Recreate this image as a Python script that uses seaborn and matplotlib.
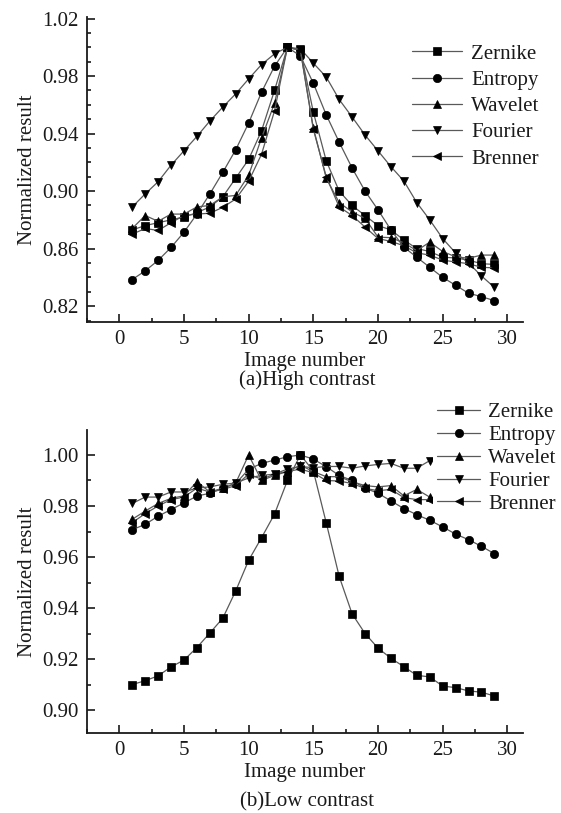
"""Normalized focus measures vs image number (high / low contrast)."""

import matplotlib

matplotlib.use("Agg")
import matplotlib.pyplot as plt  # noqa: E402
import pandas as pd  # noqa: E402
import seaborn as sns  # noqa: E402
from matplotlib.ticker import MultipleLocator, FormatStrFormatter  # noqa: E402

sns.set_style("ticks")
plt.rcParams["font.family"] = ["Liberation Serif", "DejaVu Serif"]

methods = ["Zernike", "Entropy", "Wavelet", "Fourier", "Brenner"]
markers = {"Zernike": "s", "Entropy": "o", "Wavelet": "^", "Fourier": "v", "Brenner": "<"}

# (a) high contrast, images 1..29
img_hi = list(range(1, 30))
zernike_hi = [0.873, 0.876, 0.878, 0.880, 0.882, 0.885, 0.889, 0.896, 0.909, 0.922,
              0.942, 0.970, 1.000, 0.998, 0.955, 0.921, 0.900, 0.890, 0.883, 0.876,
              0.873, 0.866, 0.860, 0.858, 0.854, 0.8535, 0.852, 0.8495, 0.849]
entropy_hi = [0.8385, 0.8445, 0.8518, 0.8608, 0.8714, 0.884, 0.898, 0.913, 0.9287, 0.9473,
              0.9688, 0.9868, 1.000, 0.994, 0.975, 0.953, 0.934, 0.916, 0.900, 0.887,
              0.873, 0.861, 0.854, 0.847, 0.840, 0.8345, 0.829, 0.8266, 0.8238]
wavelet_hi = [0.874, 0.883, 0.879, 0.884, 0.884, 0.889, 0.890, 0.896, 0.897, 0.911,
              0.937, 0.961, 1.000, 0.998, 0.944, 0.909, 0.892, 0.8855, 0.881, 0.868,
              0.8676, 0.864, 0.8586, 0.8645, 0.858, 0.8543, 0.8533, 0.8555, 0.8555]
fourier_hi = [0.889, 0.898, 0.9065, 0.918, 0.928, 0.938, 0.9487, 0.9584, 0.9676, 0.978,
              0.988, 0.9954, 1.000, 0.999, 0.989, 0.9793, 0.9637, 0.9515, 0.939, 0.928,
              0.917, 0.907, 0.892, 0.880, 0.867, 0.857, 0.850, 0.841, 0.833]
brenner_hi = [0.870, 0.874, 0.8726, 0.878, 0.883, 0.884, 0.8846, 0.8887, 0.8945, 0.9068,
              0.9257, 0.9557, 1.000, 0.998, 0.943, 0.910, 0.889, 0.883, 0.875, 0.867,
              0.865, 0.862, 0.857, 0.8555, 0.852, 0.8507, 0.8495, 0.847, 0.8466]

# (b) low contrast; Wavelet/Fourier/Brenner visible up to image 24
img_lo = list(range(1, 30))
img_lo_short = list(range(1, 25))
zernike_lo = [0.910, 0.9115, 0.9134, 0.9169, 0.9196, 0.9245, 0.9302, 0.936, 0.9467, 0.9587,
              0.9676, 0.9768, 0.990, 1.000, 0.9938, 0.9734, 0.9524, 0.9377, 0.930, 0.9243,
              0.9203, 0.917, 0.9136, 0.913, 0.9094, 0.9088, 0.9075, 0.907, 0.9055]
entropy_lo = [0.9707, 0.9728, 0.976, 0.9786, 0.9812, 0.9839, 0.985, 0.9869, 0.9888, 0.9944,
              0.9967, 0.998, 0.9993, 1.000, 0.9984, 0.9954, 0.992, 0.990, 0.987, 0.985,
              0.982, 0.979, 0.9766, 0.9744, 0.9718, 0.969, 0.9668, 0.9642, 0.9613]
wavelet_lo = [0.9748, 0.978, 0.981, 0.983, 0.984, 0.9895, 0.9855, 0.987, 0.989, 1.000,
              0.990, 0.992, 0.9935, 0.996, 0.9935, 0.9915, 0.9915, 0.9895, 0.988, 0.9875,
              0.988, 0.984, 0.9865, 0.9835]
fourier_lo = [0.981, 0.9835, 0.9835, 0.9855, 0.9855, 0.987, 0.9875, 0.9885, 0.989, 0.991,
              0.992, 0.9925, 0.9945, 0.9955, 0.995, 0.9955, 0.9955, 0.9948, 0.9957, 0.9963,
              0.9967, 0.9948, 0.9948, 0.9978]
brenner_lo = [0.9735, 0.977, 0.980, 0.9825, 0.9835, 0.987, 0.9855, 0.9865, 0.988, 0.9925,
              0.9905, 0.9925, 0.9935, 0.9945, 0.993, 0.990, 0.9898, 0.9888, 0.9869, 0.986,
              0.9865, 0.9833, 0.9825, 0.9825]

TEXT = "#1a1a1a"
FS = 15


def long_frame(series):
    rows = []
    for name, xs, ys in series:
        rows.append(pd.DataFrame({"Image": xs, "value": ys, "method": name}))
    return pd.concat(rows, ignore_index=True)


def draw(ax, df, ylim, ymajor, yoffset):
    for name in methods:
        sub = df[df["method"] == name]
        sns.lineplot(data=sub, x="Image", y="value", ax=ax, marker=markers[name],
                     color="0.35", lw=0.9, ms=6, mfc="k", mec="k", mew=0.5,
                     label=name, legend=False)
    ax.set_xlim(-2.5, 31.2)
    ax.set_ylim(*ylim)
    ax.xaxis.set_major_locator(MultipleLocator(5))
    ax.xaxis.set_minor_locator(MultipleLocator(2.5))
    ax.yaxis.set_major_locator(MultipleLocator(ymajor, offset=yoffset))
    ax.yaxis.set_minor_locator(MultipleLocator(0.01))
    ax.yaxis.set_major_formatter(FormatStrFormatter("%.2f"))
    ax.tick_params(which="both", direction="in", colors=TEXT, labelsize=FS, width=1.2)
    ax.tick_params(which="major", length=6, pad=6)
    ax.tick_params(which="minor", length=3)
    sns.despine(ax=ax)
    for s in ("left", "bottom"):
        ax.spines[s].set_linewidth(1.3)
        ax.spines[s].set_color(TEXT)
    ax.set_xlabel("Image number", fontsize=FS, color=TEXT, labelpad=2)
    ax.set_ylabel("Normalized result", fontsize=FS, color=TEXT, labelpad=4)


fig = plt.figure(figsize=(5.61, 8.13), dpi=100)
ax1 = fig.add_axes([0.155, 0.604, 0.777, 0.375])
ax2 = fig.add_axes([0.155, 0.0984, 0.777, 0.3727])

df_hi = long_frame([("Zernike", img_hi, zernike_hi), ("Entropy", img_hi, entropy_hi),
                    ("Wavelet", img_hi, wavelet_hi), ("Fourier", img_hi, fourier_hi),
                    ("Brenner", img_hi, brenner_hi)])
df_lo = long_frame([("Zernike", img_lo, zernike_lo), ("Entropy", img_lo, entropy_lo),
                    ("Wavelet", img_lo_short, wavelet_lo), ("Fourier", img_lo_short, fourier_lo),
                    ("Brenner", img_lo_short, brenner_lo)])

draw(ax1, df_hi, (0.809, 1.021), 0.04, 0.02)
draw(ax2, df_lo, (0.891, 1.0098), 0.02, 0.0)

leg1 = ax1.legend(loc="upper left", bbox_to_anchor=(0.727, 0.951), bbox_transform=fig.transFigure,
                  fontsize=FS, frameon=True, handlelength=2.4, handletextpad=0.45,
                  labelspacing=0.32, borderpad=0.2, borderaxespad=0, numpoints=1)
leg2 = ax2.legend(loc="upper left", bbox_to_anchor=(0.772, 0.510), bbox_transform=fig.transFigure,
                  fontsize=FS, frameon=True, handlelength=2.05, handletextpad=0.4,
                  labelspacing=0.16, borderpad=0.2, borderaxespad=0, numpoints=1)
for leg in (leg1, leg2):
    leg.get_frame().set_facecolor("white")
    leg.get_frame().set_alpha(1)
    leg.get_frame().set_linewidth(0)
    for t in leg.get_texts():
        t.set_color(TEXT)

fig.text(0.548, 1 - 380 / 813, "(a)High contrast", ha="center", va="center", fontsize=FS, color=TEXT)
fig.text(0.548, 1 - 802 / 813, "(b)Low contrast", ha="center", va="center", fontsize=FS, color=TEXT)

fig.savefig("out.png", dpi=100, facecolor="white")
plt.close(fig)
